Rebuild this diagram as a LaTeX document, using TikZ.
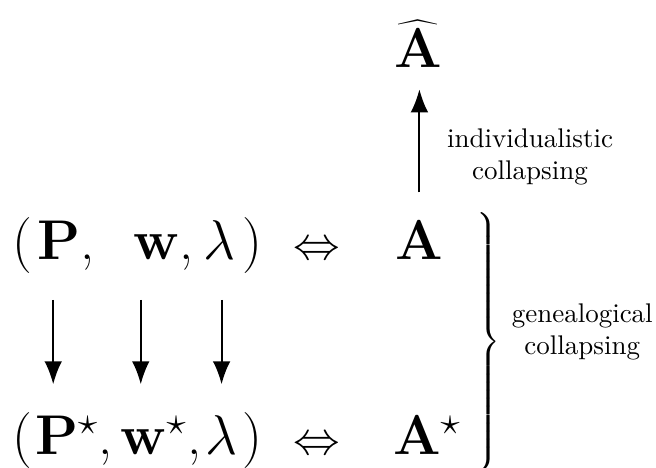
\documentclass[tikz,border=0pt]{standalone}
\usetikzlibrary{arrows.meta}

\begin{document}
\begin{tikzpicture}[>={Latex[length=3mm,width=2.3mm]},
    sym/.style={anchor=base, inner sep=0pt, font=\huge, text height=16.5pt, text depth=5pt},
    rel/.style={sym, font=\fontsize{19}{22}\selectfont},
    lbl/.style={align=center, font=\normalsize},
    down/.style={->, line width=0.7pt, shorten <=0.34cm, shorten >=0.33cm}]
  \useasboundingbox (0,0) rectangle (8.54,6.09);

  % top row
  \node[sym] (lpa) at (0.29,2.71) {$($};
  \node[sym] (P) at (0.77,2.71) {$\mathbf{P}\rlap{,}$};
  \node[sym] (w) at (2.04,2.71) {$\mathbf{w}\rlap{,}$};
  \node[sym] (lam) at (2.86,2.71) {$\lambda$};
  \node[sym] (rpa) at (3.29,2.71) {$)$};
  \node[rel] (iff) at (4.12,2.71) {$\Leftrightarrow$};
  \node[sym] (A) at (5.46,2.71) {$\mathbf{A}$};

  % bottom row
  \node[sym] (lpb) at (0.29,0.17) {$($};
  \node[sym] (Ps) at (0.87,0.17) {$\mathbf{P}^\star\rlap{,}$};
  \node[sym] (ws) at (2.00,0.17) {$\mathbf{w}^\star\rlap{,}$};
  \node[sym] (lams) at (2.88,0.17) {$\lambda$};
  \node[sym] (rpb) at (3.29,0.17) {$)$};
  \node[rel] (iffs) at (4.12,0.17) {$\Leftrightarrow$};
  \node[sym] (As) at (5.56,0.17) {$\mathbf{A}^\star$};

  \node[sym] (Ahat) at (5.44,5.21) {$\widehat{\mathbf{A}}$};

  \draw[down] ([xshift=-2.2pt]P.south) -- ([xshift=-2.2pt]P.south |- Ps.north);
  \draw[down] ([xshift=-5.9pt]w.south) -- ([xshift=-5.9pt]w.south |- ws.north);
  \draw[down] ([xshift=0.7pt]lam.south) -- ([xshift=0.7pt]lam.south |- lams.north);
  \draw[->, line width=0.7pt, shorten <=0.29cm, shorten >=0.1cm] (A.north) -- (A.north |- Ahat.south);

  \node[lbl] (ind) at (6.90,4.05) {individualistic\\collapsing};
  \node[inner sep=0pt, font=\large] (br) at (6.34,1.60)
    {$\left.\vrule height 47pt depth 47pt width 0pt\right\}$};
  \node[lbl] (gen) at (7.58,1.77) {genealogical\\collapsing};
\end{tikzpicture}
\end{document}
